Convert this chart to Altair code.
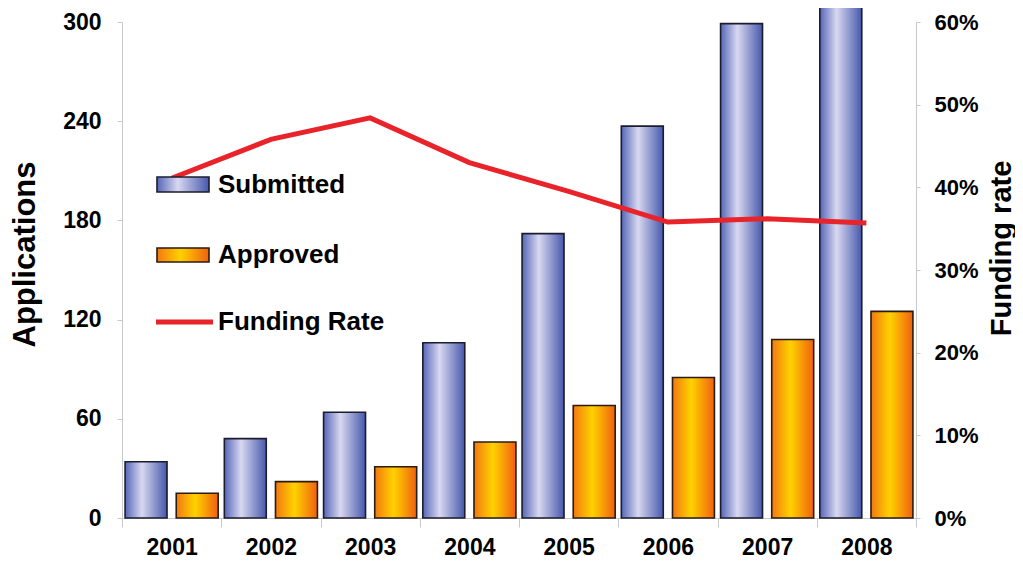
import altair as alt
import pandas as pd

years = ["2001", "2002", "2003", "2004", "2005", "2006", "2007", "2008"]
submitted = [34, 48, 64, 106, 172, 237, 299, 352]
approved = [15, 22, 31, 46, 68, 85, 108, 125]
funding_rate = [0.411, 0.458, 0.484, 0.43, 0.395, 0.358, 0.362, 0.357]
series = ["Submitted", "Approved"]
legend_labels = ["Submitted", "Approved", "Funding Rate"]
y_ticks = [0, 60, 120, 180, 240, 300]
rate_ticks = [0, 0.1, 0.2, 0.3, 0.4, 0.5, 0.6]

FONT = "Liberation Sans"

bars_df = pd.DataFrame({
    "year": years * 2,
    "series": [series[0]] * len(years) + [series[1]] * len(years),
    "value": submitted + approved,
})
line_df = pd.DataFrame({"year": years, "rate": funding_rate})
legend_df = pd.DataFrame({"label": legend_labels})

blue_grad = alt.LinearGradient(
    gradient="linear", x1=0, x2=1, y1=0, y2=0,
    stops=[alt.GradientStop(color="#5566b8", offset=0),
           alt.GradientStop(color="#d8d8f0", offset=0.4),
           alt.GradientStop(color="#4658ac", offset=1)])
orange_grad = alt.LinearGradient(
    gradient="linear", x1=0, x2=1, y1=0, y2=0,
    stops=[alt.GradientStop(color="#f27812", offset=0),
           alt.GradientStop(color="#ffd200", offset=0.45),
           alt.GradientStop(color="#f06010", offset=1)])

x_enc = alt.X("year:N", sort=years,
              scale=alt.Scale(paddingInner=0, paddingOuter=0),
              axis=alt.Axis(title=None, labelAngle=0, tickBand="extent",
                            tickSize=9, labelPadding=9, labelFontSize=23,
                            labelFontWeight="bold", labelFont=FONT,
                            labelColor="black", domainColor="#c8c8c8",
                            tickColor="#c8c8c8"))
xoff = alt.XOffset("series:N", sort=series,
                   scale=alt.Scale(domain=series, paddingInner=0.18, paddingOuter=0.06))
y_enc = alt.Y("value:Q",
              scale=alt.Scale(domain=[0, 300], nice=False),
              axis=alt.Axis(values=y_ticks, title="Applications", grid=False,
                            labelFontSize=23, labelFontWeight="bold", labelFont=FONT,
                            labelColor="black", tickSize=5, labelPadding=16,
                            domainColor="#c8c8c8", tickColor="#c8c8c8",
                            titleFontSize=31, titleFont=FONT, titleFontWeight="bold",
                            titleColor="black", titleAngle=270, titleX=-97, titleY=232,
                            titleAlign="center", titleBaseline="middle"))

base = alt.Chart(bars_df)
sub_bars = base.transform_filter(alt.datum.series == "Submitted").mark_bar(
    clip=False, fill=blue_grad, stroke="#1c1c2c", strokeWidth=1.6
).encode(x=x_enc, xOffset=xoff, y=y_enc)
app_bars = base.transform_filter(alt.datum.series == "Approved").mark_bar(
    clip=False, fill=orange_grad, stroke="#2a1c10", strokeWidth=1.6
).encode(x=x_enc, xOffset=xoff, y=y_enc)

line = alt.Chart(line_df).mark_line(color="#e8232a", strokeWidth=5, strokeJoin="miter").encode(
    x=alt.X("year:N", sort=years),
    y=alt.Y("rate:Q", scale=alt.Scale(domain=[0, 0.6], nice=False),
            axis=alt.Axis(orient="right", values=rate_ticks, format=".0%",
                          title="Funding rate", grid=False,
                          labelFontSize=22, labelFontWeight="bold", labelFont=FONT,
                          labelColor="black", tickSize=4, labelPadding=14,
                          domainColor="#c8c8c8", tickColor="#c8c8c8",
                          titleFontSize=29, titleFont=FONT, titleFontWeight="bold",
                          titleColor="black", titleAngle=270, titleX=85, titleY=226,
                          titleAlign="center", titleBaseline="middle")),
)

# Legend (drawn inside the plot area)
leg = alt.Chart(legend_df)
leg_sub = leg.transform_filter(alt.datum.label == "Submitted").mark_rect(
    fill=blue_grad, stroke="#1c1c2c", strokeWidth=1.6
).encode(x=alt.value(35), x2=alt.value(87), y=alt.value(155), y2=alt.value(170))
leg_app = leg.transform_filter(alt.datum.label == "Approved").mark_rect(
    fill=orange_grad, stroke="#2a1c10", strokeWidth=1.6
).encode(x=alt.value(35), x2=alt.value(87), y=alt.value(226), y2=alt.value(240))
leg_line = leg.transform_filter(alt.datum.label == "Funding Rate").mark_rule(
    color="#e8232a", strokeWidth=5
).encode(x=alt.value(34), x2=alt.value(91), y=alt.value(300))
text_style = dict(align="left", baseline="middle", font=FONT, fontWeight="bold",
                  fontSize=26, color="black")
leg_text_sub = leg.transform_filter(alt.datum.label == "Submitted").mark_text(
    **text_style).encode(text="label:N", x=alt.value(96), y=alt.value(163))
leg_text_app = leg.transform_filter(alt.datum.label == "Approved").mark_text(
    **text_style).encode(text="label:N", x=alt.value(96), y=alt.value(233))
leg_text_fr = leg.transform_filter(alt.datum.label == "Funding Rate").mark_text(
    **text_style).encode(text="label:N", x=alt.value(96), y=alt.value(300))

bars = alt.layer(sub_bars, app_bars)
chart = alt.layer(
    bars, line, leg_sub, leg_app, leg_line, leg_text_sub, leg_text_app, leg_text_fr
).resolve_scale(y="independent").properties(
    width=794, height=496,
    autosize=alt.AutoSizeParams(type="none"),
    padding={"left": 114, "top": 14, "right": 99, "bottom": 43},
    background="white",
).configure_view(stroke=None)

chart.save("out.html", embed_options={"renderer": "svg", "actions": False})
